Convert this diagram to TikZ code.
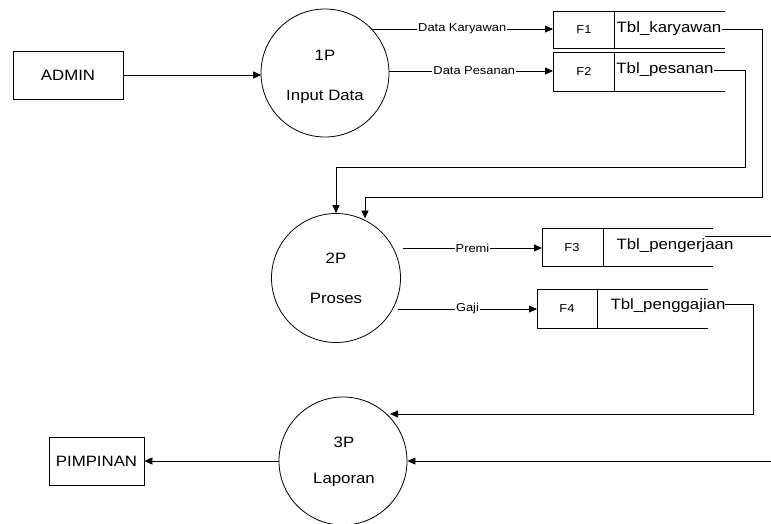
\documentclass[tikz,border=0pt]{standalone}
\usepackage{fontspec}
\setmainfont{Liberation Sans}[FakeStretch=1.12]
\usetikzlibrary{arrows.meta}
\begin{document}
\begin{tikzpicture}[x=1pt,y=-1pt,
  line width=0.8pt,
  arr/.style={-{Triangle[length=8pt,width=7pt]}},
  bigtxt/.style={font=\fontsize{15}{17}\selectfont, inner sep=0pt},
  smalltxt/.style={font=\fontsize{11.5}{13}\selectfont, inner sep=0pt},
  flowlbl/.style={font=\fontsize{11.5}{13}\selectfont, fill=white, inner sep=1pt},
  proc/.style={draw, circle, minimum size=128pt, inner sep=0pt},
  ent/.style={draw, font=\fontsize{15}{17}\selectfont}]
\useasboundingbox (0,0) rectangle (771,524);

% entities
\node[ent, minimum width=110pt, minimum height=48pt] (admin) at (68,75) {ADMIN};
\node[ent, minimum width=95pt, minimum height=48pt] (pimp) at (96.5,461) {PIMPINAN};

% processes
\node[proc] (p1) at (325,73) {};
\node[bigtxt] (p1a) at (325,55) {1P};
\node[bigtxt] (p1b) at (325,97) {Input Data};
\node[proc, minimum size=129pt] (p2) at (336,278) {};
\node[bigtxt] (p2a) at (336,258) {2P};
\node[bigtxt] (p2b) at (336,298) {Proses};
\node[proc] (p3) at (343,461) {};
\node[bigtxt] (p3a) at (344,442) {3P};
\node[bigtxt] (p3b) at (344,480) {Laporan};

% data stores
% F1
\draw (725,11) -- (553,11) -- (553,48) -- (725,48);
\draw (614,11) -- (614,48);
\node[smalltxt] (f1) at (584,30) {F1};
\node[bigtxt] (t1) at (669,29) {Tbl\_karyawan};
\coordinate (f1in) at (553,29);
% F2
\draw (725,52) -- (553,52) -- (553,91) -- (725,91);
\draw (614,52) -- (614,91);
\node[smalltxt] (f2) at (584,71) {F2};
\node[bigtxt] (t2) at (665,70) {Tbl\_pesanan};
\coordinate (f2in) at (553,71);
% F3
\draw (713,228) -- (542,228) -- (542,266) -- (713,266);
\draw (603,228) -- (603,266);
\node[smalltxt] (f3) at (572,248) {F3};
\node[bigtxt] (t3) at (675,246) {Tbl\_pengerjaan};
\coordinate (f3in) at (542,248);
% F4
\draw (708,289) -- (537,289) -- (537,328) -- (708,328);
\draw (597,289) -- (597,328);
\node[smalltxt] (f4) at (567,309) {F4};
\node[bigtxt] (t4) at (668,306) {Tbl\_penggajian};
\coordinate (f4in) at (537,309);

% flows
\coordinate (p1in) at (261.2,75);
\draw[arr] (admin.east) -- (p1in);

\coordinate (dk0) at (371.5,29);
\draw[arr] (dk0) -- node[flowlbl, pos=0.5] {Data Karyawan} (f1in);
\coordinate (dp0) at (389,71);
\draw[arr] (dp0) -- node[flowlbl, pos=0.52] {Data Pesanan} (f2in);

\coordinate (k0) at (722,29);
\coordinate (k1) at (762,29);
\coordinate (k2) at (762,197);
\coordinate (k3) at (365,197);
\coordinate (k4) at (365,218.5);
\draw[arr] (k0) -- (k1) -- (k2) -- (k3) -- (k4);

\coordinate (s0) at (714,70);
\coordinate (s1) at (745,70);
\coordinate (s2) at (745,167);
\coordinate (s3) at (336,167);
\draw[arr] (s0) -- (s1) -- (s2) -- (s3) -- (p2.north);

\coordinate (pr0) at (403,248);
\draw[arr] (pr0) -- node[flowlbl, pos=0.5] {Premi} (f3in);
\coordinate (gj0) at (398,309);
\draw[arr] (gj0) -- node[flowlbl, pos=0.5] {Gaji} (f4in);

\coordinate (e0) at (705,236);
\coordinate (e1) at (771,236);
\draw (e0) -- (e1);

\coordinate (g0) at (725,304);
\coordinate (g1) at (753,304);
\coordinate (g2) at (753,414);
\coordinate (g3) at (390,414);
\draw[arr] (g0) -- (g1) -- (g2) -- (g3);

\coordinate (r0) at (771,461);
\draw[arr] (r0) -- (p3.east);
\draw[arr] (p3.west) -- (pimp.east);
\end{tikzpicture}
\end{document}
